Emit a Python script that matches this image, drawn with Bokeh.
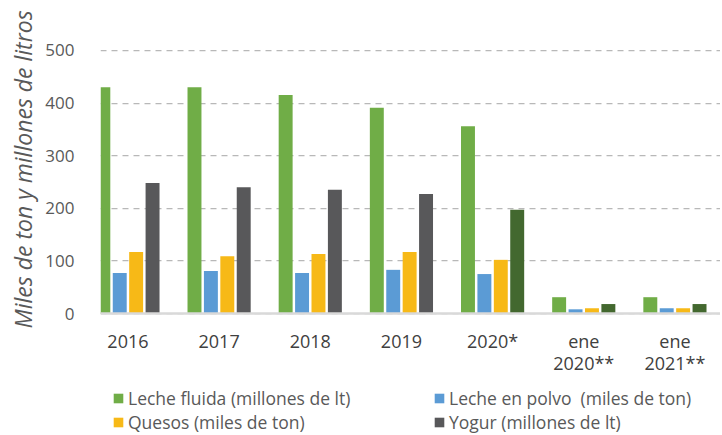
from bokeh.plotting import figure
from bokeh.models import (ColumnDataSource, Range1d, FixedTicker, Legend, LegendItem, Title)
from bokeh.transform import dodge
from bokeh.embed import file_html
from bokeh.resources import INLINE

categories = ["2016", "2017", "2018", "2019", "2020*", "ene\n2020**", "ene\n2021**"]
leche_fluida = [430, 430, 415, 391, 356, 31, 31]
leche_polvo = [77, 81, 77, 83, 75, 8, 10]
quesos = [117, 109, 113, 117, 102, 10, 10]
yogur = [248, 240, 235, 227, 197, 18, 18]
yogur_colors = ["#58585a", "#58585a", "#58585a", "#58585a", "#43682f", "#43682f", "#43682f"]
series_labels = ["Leche fluida (millones de lt)", "Leche en polvo  (miles de ton)",
                 "Quesos (miles de ton)", "Yogur (millones de lt)"]
y_ticks = [0, 100, 200, 300, 400, 500]
y_title = "Miles de ton y millones de litros"

idx = list(range(len(categories)))
src = ColumnDataSource(dict(x=idx, lf=leche_fluida, lp=leche_polvo, q=quesos,
                            y=yogur, yc=yogur_colors))

p = figure(width=720, height=435, output_backend="svg", toolbar_location=None,
           x_range=Range1d(-0.301, 6.5), y_range=Range1d(-231.8, 515),
           min_border_left=94, min_border_right=0, min_border_top=42, min_border_bottom=0)
p.outline_line_color = None

w = 0.153
r1 = p.vbar(x=dodge("x", -0.27, range=p.x_range), top="lf", width=w, source=src,
            fill_color="#70ad47", line_color=None)
r2 = p.vbar(x=dodge("x", -0.09, range=p.x_range), top="lp", width=w, source=src,
            fill_color="#5b9bd5", line_color=None)
r3 = p.vbar(x=dodge("x", 0.09, range=p.x_range), top="q", width=w, source=src,
            fill_color="#f7b917", line_color=None)
r4 = p.vbar(x=dodge("x", 0.27, range=p.x_range), top="y", width=w, source=src,
            fill_color="yc", line_color=None)

# x axis drawn at y = 0
p.xaxis.fixed_location = 0
p.xaxis.ticker = FixedTicker(ticks=idx)
p.xaxis.major_label_overrides = {i: c for i, c in enumerate(categories)}
p.xaxis.axis_line_color = "#d9d9d9"
p.xaxis.axis_line_width = 2.5
p.xaxis.major_tick_line_color = None
p.xaxis.minor_tick_line_color = None
p.xaxis.major_label_text_font = "Open Sans"
p.xaxis.major_label_text_font_size = "18px"
p.xaxis.major_label_text_color = "#404040"
p.xaxis.major_label_text_line_height = 0.92
p.xaxis.major_label_standoff = 9

p.yaxis.ticker = FixedTicker(ticks=y_ticks)
p.yaxis.axis_line_color = None
p.yaxis.major_tick_line_color = None
p.yaxis.minor_tick_line_color = None
p.yaxis.major_label_text_font = "Open Sans"
p.yaxis.major_label_text_font_size = "17px"
p.yaxis.major_label_text_color = "#595959"
p.yaxis.major_label_standoff = 20

p.add_layout(Title(text=y_title, align="left", offset=107, standoff=8,
                   text_font="Open Sans", text_font_style="italic",
                   text_font_size="23px", text_line_height=0.75,
                   text_color="#595959"), "left")

p.xgrid.grid_line_color = None
p.ygrid.grid_line_color = "#b8b8b8"
p.ygrid.grid_line_width = 1.25
p.ygrid.grid_line_dash = "6 5"

legend = Legend(items=[LegendItem(label=series_labels[0], renderers=[r1]),
                       LegendItem(label=series_labels[1], renderers=[r2]),
                       LegendItem(label=series_labels[2], renderers=[r3]),
                       LegendItem(label=series_labels[3], renderers=[r4], index=0)],
                location=(12, 1), orientation="horizontal", ncols=2,
                background_fill_alpha=0, border_line_color=None,
                padding=0, margin=0, spacing=0, label_height=22, glyph_height=12,
                glyph_width=12, label_standoff=4, label_width=305,
                label_text_font="Open Sans", label_text_font_size="17.5px",
                label_text_color="#595959")
p.add_layout(legend, "center")

open("out.html", "w").write(file_html(p, INLINE))
